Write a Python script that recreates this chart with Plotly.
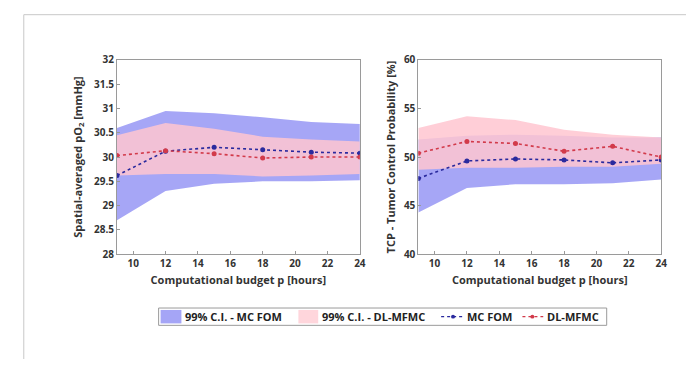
import plotly.graph_objects as go

hours = [9, 12, 15, 18, 21, 24]
x_ticks = [10, 12, 14, 16, 18, 20, 22, 24]

# Left panel: spatial-averaged pO2 [mmHg]
po2_mc = [29.62, 30.12, 30.20, 30.15, 30.10, 30.08]
po2_dl = [30.03, 30.13, 30.07, 29.98, 30.00, 30.00]
po2_mc_lo = [28.70, 29.30, 29.45, 29.50, 29.50, 29.52]
po2_mc_hi = [30.60, 30.95, 30.90, 30.82, 30.72, 30.68]
po2_dl_lo = [29.62, 29.65, 29.65, 29.60, 29.62, 29.65]
po2_dl_hi = [30.45, 30.70, 30.58, 30.42, 30.36, 30.32]
po2_ticks = [28, 28.5, 29, 29.5, 30, 30.5, 31, 31.5, 32]

# Right panel: TCP [%]
tcp_mc = [47.8, 49.6, 49.8, 49.7, 49.4, 49.7]
tcp_dl = [50.4, 51.6, 51.4, 50.6, 51.1, 50.0]
tcp_mc_lo = [44.3, 46.8, 47.2, 47.2, 47.3, 47.7]
tcp_mc_hi = [51.8, 52.2, 52.3, 52.2, 52.0, 52.0]
tcp_dl_lo = [48.7, 48.9, 48.9, 49.0, 49.0, 49.3]
tcp_dl_hi = [53.0, 54.2, 53.8, 52.8, 52.3, 52.0]
tcp_ticks = [40, 45, 50, 55, 60]

legend_labels = ["99% C.I. - MC FOM", "99% C.I. - DL-MFMC", "MC FOM", "DL-MFMC"]

BLUE_FILL = "rgba(150,150,245,0.85)"
RED_FILL = "rgba(255,198,208,0.85)"
BLUE_SWATCH = "rgb(165,165,246)"
RED_SWATCH = "rgb(255,214,220)"
BLUE_LINE = "#2a2a9e"
RED_LINE = "#d23a4a"
FONT = "Open Sans"

fig = go.Figure()


def add_panel(xa, ya, mc, dl, mc_lo, mc_hi, dl_lo, dl_hi):
    fig.add_trace(go.Scatter(x=hours, y=mc_hi, mode="lines", line=dict(width=0, color=BLUE_FILL),
                             showlegend=False, hoverinfo="skip", xaxis=xa, yaxis=ya))
    fig.add_trace(go.Scatter(x=hours, y=mc_lo, mode="lines", line=dict(width=0, color=BLUE_FILL),
                             fill="tonexty", fillcolor=BLUE_FILL, name=legend_labels[0],
                             showlegend=False, xaxis=xa, yaxis=ya))
    fig.add_trace(go.Scatter(x=hours, y=dl_hi, mode="lines", line=dict(width=0, color=RED_FILL),
                             showlegend=False, hoverinfo="skip", xaxis=xa, yaxis=ya))
    fig.add_trace(go.Scatter(x=hours, y=dl_lo, mode="lines", line=dict(width=0, color=RED_FILL),
                             fill="tonexty", fillcolor=RED_FILL, name=legend_labels[1],
                             showlegend=False, xaxis=xa, yaxis=ya))
    fig.add_trace(go.Scatter(x=hours, y=mc, mode="lines+markers", name=legend_labels[2],
                             line=dict(color=BLUE_LINE, width=1.6, dash="3px,3px"),
                             marker=dict(size=5, color=BLUE_LINE),
                             showlegend=False, xaxis=xa, yaxis=ya))
    fig.add_trace(go.Scatter(x=hours, y=dl, mode="lines+markers", name=legend_labels[3],
                             line=dict(color=RED_LINE, width=1.6, dash="3px,3px"),
                             marker=dict(size=5, color=RED_LINE),
                             showlegend=False, xaxis=xa, yaxis=ya))


add_panel("x", "y", po2_mc, po2_dl, po2_mc_lo, po2_mc_hi, po2_dl_lo, po2_dl_hi)
add_panel("x2", "y2", tcp_mc, tcp_dl, tcp_mc_lo, tcp_mc_hi, tcp_dl_lo, tcp_dl_hi)

W, H = 692, 366
ydom = [(H - 257) / H, (H - 55) / H]
tickfont = dict(family=FONT, size=10, color="#333333", weight="bold")
titlefont = dict(family=FONT, size=11, color="#333333", weight="bold")

common_x = dict(range=[9, 24], tickvals=x_ticks, ticks="inside", ticklen=3, tickcolor="#999",
                showline=True, linecolor="#9a9a9a", linewidth=1, mirror=True, showgrid=False,
                zeroline=False, tickfont=tickfont,
                title=dict(text="Computational budget p [hours]", font=titlefont, standoff=7))
common_y = dict(ticks="inside", ticklen=3, tickcolor="#999", showline=True, linecolor="#9a9a9a",
                linewidth=1, mirror=True, showgrid=False, zeroline=False, tickfont=tickfont)


def px(x):
    return x / W


def py(y):
    return (H - y) / H


# Hand-built legend (compact, MATLAB-like)
LEG_Y = 322
shapes = [
    dict(type="line", xref="paper", yref="paper", x0=px(24), x1=1, y0=py(8), y1=py(8),
         line=dict(color="#c8c8c8", width=1)),
    dict(type="line", xref="paper", yref="paper", x0=px(24), x1=px(24), y0=0, y1=py(8),
         line=dict(color="#c8c8c8", width=1)),
    dict(type="rect", xref="paper", yref="paper", x0=px(160), x1=px(612), y0=py(331), y1=py(313),
         line=dict(color="#9a9a9a", width=1), fillcolor="white"),
    dict(type="rect", xref="paper", yref="paper", x0=px(162), x1=px(183), y0=py(329), y1=py(315),
         line=dict(width=0), fillcolor=BLUE_SWATCH),
    dict(type="rect", xref="paper", yref="paper", x0=px(301), x1=px(321), y0=py(329), y1=py(315),
         line=dict(width=0), fillcolor=RED_SWATCH),
    dict(type="line", xref="paper", yref="paper", x0=px(445), x1=px(467), y0=py(LEG_Y), y1=py(LEG_Y),
         line=dict(color=BLUE_LINE, width=1.2, dash="3px,3px")),
    dict(type="circle", xref="paper", yref="paper", x0=px(455), x1=px(459), y0=py(LEG_Y + 2),
         y1=py(LEG_Y - 2), line=dict(width=0), fillcolor=BLUE_LINE),
    dict(type="line", xref="paper", yref="paper", x0=px(527), x1=px(548), y0=py(LEG_Y), y1=py(LEG_Y),
         line=dict(color=RED_LINE, width=1.2, dash="3px,3px")),
    dict(type="circle", xref="paper", yref="paper", x0=px(535), x1=px(539), y0=py(LEG_Y + 2),
         y1=py(LEG_Y - 2), line=dict(width=0), fillcolor=RED_LINE),
]

leg_font = dict(family=FONT, size=11, color="#222222", weight="bold")
annotations = []
for xpos, label in zip([185, 323, 469, 550], legend_labels):
    annotations.append(dict(text=label, xref="paper", yref="paper", x=px(xpos), y=py(LEG_Y),
                            xanchor="left", yanchor="middle", showarrow=False, font=leg_font))

fig.update_layout(
    width=W, height=H,
    margin=dict(l=0, r=0, t=0, b=0),
    paper_bgcolor="white", plot_bgcolor="white",
    showlegend=False,
    xaxis=dict(domain=[px(118), px(363)], anchor="y", **common_x),
    yaxis=dict(domain=ydom, anchor="x", range=[28, 32], tickvals=po2_ticks,
               ticktext=[f"{v:g}" for v in po2_ticks],
               title=dict(text="Spatial-averaged pO<sub>2</sub> [mmHg]", font=titlefont, standoff=9),
               **common_y),
    xaxis2=dict(domain=[px(422), px(667)], anchor="y2", **common_x),
    yaxis2=dict(domain=ydom, anchor="x2", range=[40, 60], tickvals=tcp_ticks,
                title=dict(text="TCP - Tumor Control Probability [%]", font=titlefont, standoff=6),
                **common_y),
    shapes=shapes,
    annotations=annotations,
)

fig.write_html("out.html")
